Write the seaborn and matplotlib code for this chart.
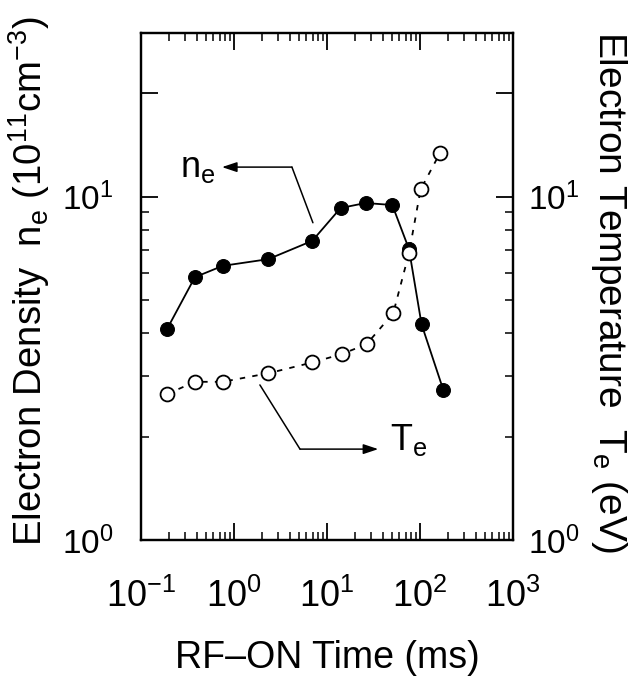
import seaborn as sns
import matplotlib.pyplot as plt
from matplotlib.ticker import LogLocator, NullFormatter


# data
t_ne = [0.19, 0.38, 0.755, 2.34, 6.95, 14.0, 26.0, 50.4, 76.2, 104, 178]
ne = [4.11, 5.83, 6.29, 6.58, 7.44, 9.27, 9.59, 9.46, 7.04, 4.25, 2.74]

t_te = [0.19, 0.38, 0.755, 2.34, 6.95, 14.4, 26.7, 51.6, 76.2, 101.6, 164]
te = [2.66, 2.89, 2.89, 3.06, 3.29, 3.48, 3.72, 4.58, 6.85, 10.5, 13.4]

x_ticks = [0.1, 1, 10, 100, 1000]
x_ticklabels = ['$10^{-1}$', '$10^{0}$', '$10^{1}$', '$10^{2}$', '$10^{3}$']
y_ticks = [1, 10, 20]
y_ticklabels = ['$10^{0}$', '$10^{1}$', '']

# pointer lines for the two labels
ne_pointer = [(7.06, 8.4), (4.2, 12.2), (0.743, 12.2)]
te_pointer = [(1.9, 2.83), (5.13, 1.84), (35.6, 1.84)]


sns.set_style('ticks')
plt.rcParams['font.family'] = ['Liberation Sans', 'DejaVu Sans']
plt.rcParams['mathtext.fontset'] = 'custom'
plt.rcParams['mathtext.rm'] = 'Liberation Sans'
plt.rcParams['mathtext.it'] = 'Liberation Sans:italic'
plt.rcParams['mathtext.default'] = 'regular'
for key in ['axes.edgecolor', 'text.color', 'axes.labelcolor', 'xtick.color', 'ytick.color']:
    plt.rcParams[key] = 'black'

fig = plt.figure(figsize=(6.42, 6.84), dpi=100)
ax = fig.add_axes([0.2196, 0.2105, 0.5794, 0.7413])
ax2 = ax.twinx()

sns.lineplot(x=t_ne, y=ne, ax=ax, color='black', linewidth=1.3, marker='o',
             markersize=10, markerfacecolor='black', markeredgecolor='black',
             errorbar=None)
sns.lineplot(x=t_te, y=te, ax=ax2, color='black', linewidth=1.3, marker='o',
             markersize=10, markerfacecolor='white', markeredgecolor='black',
             markeredgewidth=1.3, dashes=False, errorbar=None)
ax2.lines[0].set_dashes((3, 4))

for a in (ax, ax2):
    a.set_xscale('log')
    a.set_yscale('log')
    a.set_xlim(0.1, 1000)
    a.set_ylim(1, 30)
    a.set_yticks(y_ticks, labels=y_ticklabels)
    a.yaxis.set_minor_locator(LogLocator(base=10, subs=range(2, 10)))
    a.yaxis.set_minor_formatter(NullFormatter())
    for s in a.spines.values():
        s.set_linewidth(1.6)

ax.set_xticks(x_ticks, labels=x_ticklabels)
ax.xaxis.set_minor_locator(LogLocator(base=10, subs=range(2, 10)))
ax.xaxis.set_minor_formatter(NullFormatter())

ax.tick_params(axis='x', which='both', direction='in', top=True, bottom=True,
               labelsize=26, pad=28)
ax.tick_params(axis='y', which='both', direction='in', left=True, right=False,
               labelsize=24, pad=20)
ax2.tick_params(axis='y', which='both', direction='in', right=True, left=False,
                labelsize=24, pad=11)
for a in (ax, ax2):
    a.tick_params(which='major', length=12, width=1.3)
    a.tick_params(which='minor', length=6, width=1.1)

ax.set_xlabel('RF\u2013ON Time (ms)', fontsize=27, labelpad=18)
ax.set_ylabel('Electron Density  $n_e$ $(10^{11}cm^{-3})$', fontsize=27.5, va='center')
ax.yaxis.set_label_coords(-0.3, 0.511)
ax2.set_ylabel('Electron Temperature  $T_e$ (eV)', fontsize=28, rotation=270, va='center')
ax2.yaxis.set_label_coords(1.257, 0.489)

# labels with pointer arrows
ax.plot([p[0] for p in ne_pointer[:2]], [p[1] for p in ne_pointer[:2]], color='black', linewidth=1.1)
ax.annotate('', xy=ne_pointer[2], xytext=ne_pointer[1],
            arrowprops=dict(arrowstyle='-|>,head_length=0.9,head_width=0.3', color='black',
                            linewidth=1.1, shrinkA=0, shrinkB=0))
ax.text(0.625, 11.4, '$n_e$', fontsize=26, ha='right', va='baseline')

ax.plot([p[0] for p in te_pointer[:2]], [p[1] for p in te_pointer[:2]], color='black', linewidth=1.1)
ax.annotate('', xy=te_pointer[2], xytext=te_pointer[1],
            arrowprops=dict(arrowstyle='-|>,head_length=0.9,head_width=0.3', color='black',
                            linewidth=1.1, shrinkA=0, shrinkB=0))
ax.text(47.5, 1.83, '$T_e$', fontsize=26, ha='left', va='baseline')

fig.savefig('out.png', dpi=100)
